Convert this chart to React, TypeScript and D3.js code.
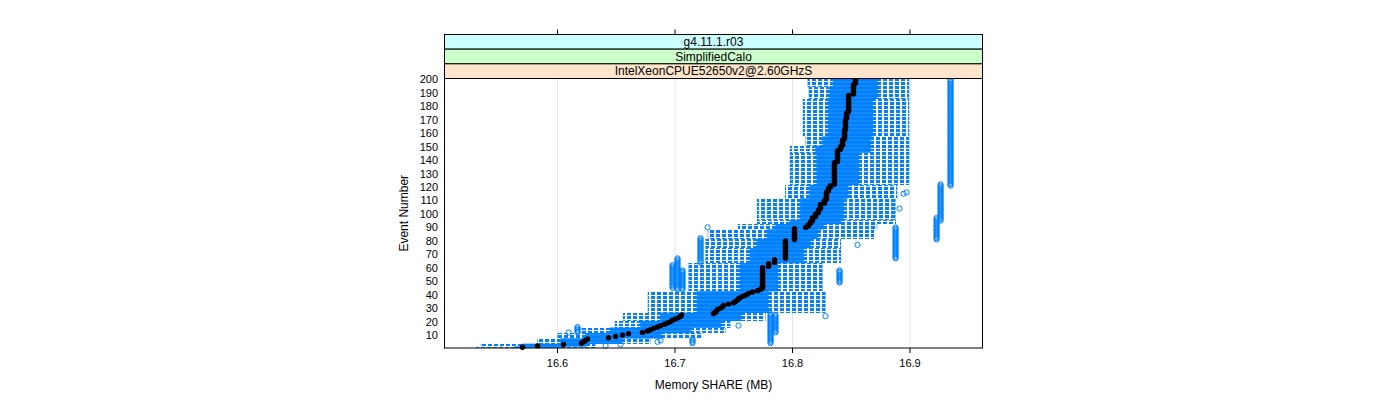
import React from 'react';
import * as d3 from 'd3';

// ---------- data ----------
const stripLabels = ['g4.11.1.r03', 'SimplifiedCalo', 'IntelXeonCPUE52650v2@2.60GHzS'];
const stripColors = ['#CCFFFF', '#CCFFCC', '#FFE5CC'];
const xTicks = [16.6, 16.7, 16.8, 16.9];
const yTicks = [10, 20, 30, 40, 50, 60, 70, 80, 90, 100, 110, 120, 130, 140, 150, 160, 170, 180, 190, 200];

// median per event, as [value, number of consecutive events]
const medianRuns: [number, number][] = [
  [16.5702, 1], [16.583, 1], [16.6051, 1], [16.6204, 1], [16.6221, 1], [16.6238, 1], [16.6255, 1],
  [16.6434, 1], [16.6494, 1], [16.6553, 1], [16.6604, 1], [16.6723, 1], [16.6766, 1], [16.6791, 1],
  [16.6817, 1], [16.6851, 1], [16.6877, 1], [16.6911, 1], [16.6936, 1], [16.6962, 1], [16.6979, 1],
  [16.7004, 1], [16.703, 1], [16.7047, 1], [16.7055, 1], [16.7328, 1], [16.7345, 1], [16.7353, 1],
  [16.7362, 1], [16.7387, 1], [16.7404, 1], [16.7413, 1], [16.7455, 1], [16.7498, 1], [16.7515, 1],
  [16.7532, 1], [16.754, 1], [16.7557, 1], [16.7583, 1], [16.7609, 1], [16.7626, 1], [16.766, 1],
  [16.7702, 1], [16.7728, 1], [16.7745, 16], [16.7796, 3], [16.7847, 3], [16.794, 14], [16.8017, 9],
  [16.8111, 1], [16.8136, 2], [16.8153, 2], [16.817, 3], [16.8196, 3], [16.8221, 3], [16.8238, 4],
  [16.8272, 3], [16.8289, 6], [16.8306, 3], [16.8323, 2], [16.8357, 17], [16.8383, 9], [16.8409, 3],
  [16.8426, 5], [16.8443, 7], [16.8451, 8], [16.846, 5], [16.8477, 13], [16.8519, 8], [16.8536, 4],
];

// box-and-whisker statistics by blocks of events
const blockFrom = [1, 2, 4, 8, 12, 16, 21, 27, 43, 64, 75, 82, 89, 93, 96, 112, 122, 146, 151, 158, 186, 195];
const blockTo = [1, 3, 7, 11, 15, 20, 26, 42, 63, 74, 81, 88, 92, 95, 111, 121, 145, 150, 157, 185, 194, 200];
const whiskerLow = [16.531, 16.535, 16.583, 16.600, 16.620, 16.649, 16.656, 16.677, 16.7115, 16.726, 16.726, 16.728, 16.754, 16.770, 16.770, 16.794, 16.798, 16.798, 16.811, 16.809, 16.814, 16.813];
const quartile1 = [16.564, 16.570, 16.603, 16.624, 16.645, 16.671, 16.688, 16.719, 16.7557, 16.764, 16.770, 16.779, 16.786, 16.798, 16.807, 16.815, 16.821, 16.820, 16.826, 16.831, 16.832, 16.835];
const quartile3 = [16.603, 16.624, 16.654, 16.688, 16.713, 16.739, 16.756, 16.779, 16.7872, 16.809, 16.815, 16.821, 16.826, 16.841, 16.843, 16.847, 16.856, 16.866, 16.866, 16.868, 16.872, 16.872];
const whiskerHigh = [16.632, 16.632, 16.679, 16.722, 16.743, 16.747, 16.777, 16.828, 16.8255, 16.841, 16.841, 16.869, 16.872, 16.8877, 16.8877, 16.889, 16.899, 16.899, 16.899, 16.899, 16.899, 16.899];

// outliers: value, first event, last event
const outlierValue = [16.9345, 16.926, 16.9226, 16.8877, 16.8911, 16.8945, 16.897, 16.8553, 16.84, 16.7217, 16.7277, 16.6979, 16.7021, 16.7064, 16.8281, 16.7813, 16.7855, 16.754, 16.7149, 16.6851, 16.6877, 16.6536, 16.6409, 16.6094, 16.617];
const outlierFrom = [121, 95, 81, 67, 104, 115, 116, 77, 49, 64, 90, 45, 44, 44, 24, 4, 12, 17, 4, 5, 6, 3, 2, 12, 12];
const outlierTo = [200, 122, 97, 90, 104, 115, 116, 77, 58, 82, 90, 62, 67, 58, 24, 26, 25, 17, 7, 5, 6, 3, 2, 12, 16];

// ---------- layout ----------
const W = 1400;
const H = 400;
const panel = { left: 444.5, right: 982.5, top: 78.5, bottom: 348 };
const stripH = 14.67;
const BLUE = '#0080FF';
const FONT = '"Liberation Sans", Arial, Helvetica, sans-serif';

export default function App() {
  const x = d3.scaleLinear().domain([16.5038, 16.9617]).range([panel.left, panel.right]);
  const y = d3.scaleLinear().domain([0.4, 200.6]).range([panel.bottom, panel.top]);
  const unit = Math.abs(y(1) - y(0));
  const boxH = 0.5 * unit;

  const medians: number[] = [];
  medianRuns.forEach(([v, n]) => {
    for (let i = 0; i < n; i++) medians.push(v);
  });

  const rows: { e: number; lo: number; q1: number; q3: number; hi: number; med: number }[] = [];
  blockFrom.forEach((f, i) => {
    for (let e = f; e <= blockTo[i]; e++) {
      rows.push({ e, lo: whiskerLow[i], q1: quartile1[i], q3: quartile3[i], hi: whiskerHigh[i], med: medians[e - 1] });
    }
  });

  const outliers: { e: number; v: number }[] = [];
  outlierValue.forEach((v, i) => {
    for (let e = outlierFrom[i]; e <= outlierTo[i]; e++) outliers.push({ e, v });
  });

  const stripTop = panel.top - stripH * 3;

  return (
    <svg width={W} height={H} style={{ position: 'absolute', left: 0, top: 0, background: '#fff' }} fontFamily={FONT}>
      <rect x={0} y={0} width={W} height={H} fill="#fff" />
      {/* grid */}
      {xTicks.map((t) => (
        <line key={'g' + t} x1={x(t)} x2={x(t)} y1={panel.top} y2={panel.bottom} stroke="#E6E6E6" strokeWidth={1} />
      ))}
      {/* whiskers */}
      <g stroke={BLUE} strokeWidth={1} fill="none" shapeRendering="crispEdges">
        {rows.map((r) => (
          <g key={'w' + r.e}>
            <line x1={x(r.q1)} x2={x(r.lo)} y1={y(r.e)} y2={y(r.e)} strokeDasharray="4 2" />
            <line x1={x(r.q3)} x2={x(r.hi)} y1={y(r.e)} y2={y(r.e)} strokeDasharray="4 2" />
          </g>
        ))}
      </g>
      <g stroke={BLUE} strokeWidth={1} fill="none">
        {rows.map((r) => (
          <g key={'c' + r.e}>
            <line x1={x(r.lo)} x2={x(r.lo)} y1={y(r.e) - boxH / 2} y2={y(r.e) + boxH / 2} />
            <line x1={x(r.hi)} x2={x(r.hi)} y1={y(r.e) - boxH / 2} y2={y(r.e) + boxH / 2} />
          </g>
        ))}
      </g>
      {/* boxes */}
      <g stroke={BLUE} strokeWidth={1} fill="none">
        {rows.map((r) => (
          <rect key={'b' + r.e} x={x(r.q1)} y={y(r.e) - boxH / 2} width={x(r.q3) - x(r.q1)} height={boxH} />
        ))}
      </g>
      {/* outliers */}
      <g stroke={BLUE} strokeWidth={1} fill="none">
        {outliers.map((o, i) => (
          <circle key={'o' + i} cx={x(o.v)} cy={y(o.e)} r={2.6} />
        ))}
      </g>
      {/* medians */}
      <g fill="#000">
        {rows.map((r) => (
          <circle key={'m' + r.e} cx={x(r.med)} cy={y(r.e)} r={2.7} />
        ))}
      </g>
      {/* panel border */}
      <rect x={panel.left} y={panel.top} width={panel.right - panel.left} height={panel.bottom - panel.top} fill="none" stroke="#000" strokeWidth={1} />
      {/* strips */}
      {stripLabels.map((s, i) => {
        const top = stripTop + i * stripH;
        return (
          <g key={s}>
            <rect x={panel.left} y={top} width={panel.right - panel.left} height={stripH} fill={stripColors[i]} stroke="#000" strokeWidth={1} />
            <text x={(panel.left + panel.right) / 2} y={top + stripH / 2 + 4.3} textAnchor="middle" fontSize={12} fill="#000">
              {s}
            </text>
          </g>
        );
      })}
      {/* x axis */}
      {xTicks.map((t) => (
        <g key={'xt' + t}>
          <line x1={x(t)} x2={x(t)} y1={panel.bottom} y2={panel.bottom + 5} stroke="#000" />
          <line x1={x(t)} x2={x(t)} y1={stripTop} y2={stripTop - 5} stroke="#000" />
          <text x={x(t)} y={panel.bottom + 19} textAnchor="middle" fontSize={11}>
            {d3.format('.1f')(t)}
          </text>
        </g>
      ))}
      {/* y axis */}
      {yTicks.map((t) => (
        <text key={'yt' + t} x={438} y={y(t) + 4} textAnchor="end" fontSize={11}>
          {t}
        </text>
      ))}
      <text x={(panel.left + panel.right) / 2} y={389} textAnchor="middle" fontSize={12}>
        Memory SHARE (MB)
      </text>
      <text transform={`translate(408,${(panel.top + panel.bottom) / 2}) rotate(-90)`} textAnchor="middle" fontSize={12}>
        Event Number
      </text>
    </svg>
  );
}
